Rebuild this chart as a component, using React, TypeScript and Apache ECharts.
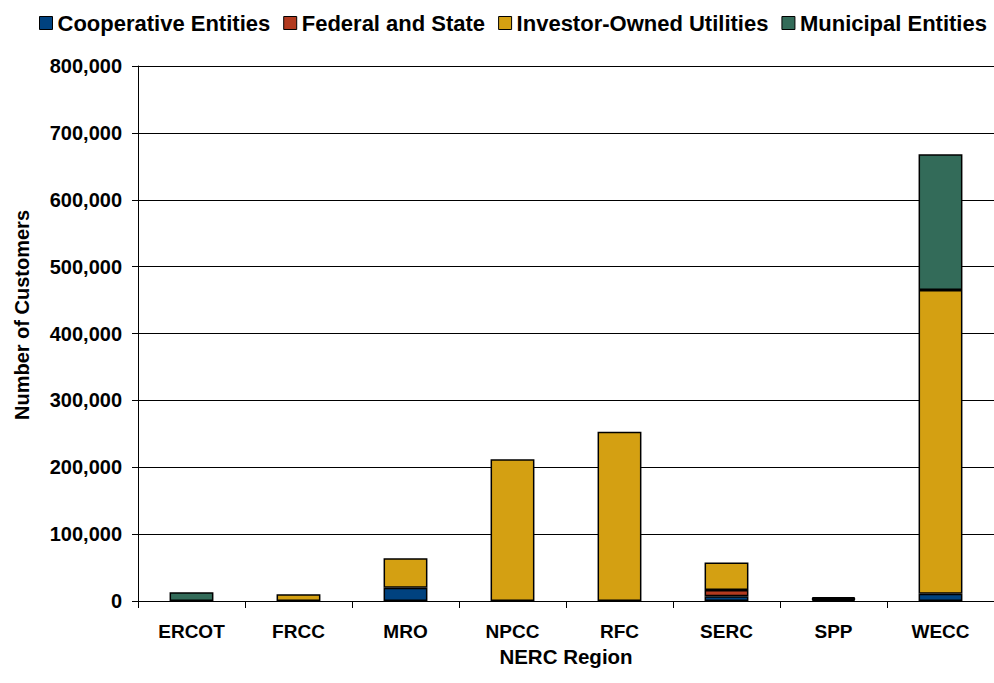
import React, { useEffect, useRef } from "react";
import * as echarts from "echarts";

const categories = ["ERCOT", "FRCC", "MRO", "NPCC", "RFC", "SERC", "SPP", "WECC"];
const cooperative = [0, 0, 20000, 0, 0, 7000, 2000, 11000];
const federal = [0, 0, 0, 0, 0, 9500, 1000, 0];
const investorOwned = [0, 10000, 44000, 212000, 253000, 41000, 1000, 454000];
const municipal = [13000, 0, 0, 0, 0, 0, 2000, 203000];
const yTicks = [0, 100000, 200000, 300000, 400000, 500000, 600000, 700000, 800000];
const xAxisTitle = "NERC Region";
const yAxisTitle = "Number of Customers";

const seriesDefs = [
  { name: "Cooperative Entities", data: cooperative, color: "#00427F" },
  { name: "Federal and State", data: federal, color: "#B23A1F" },
  { name: "Investor-Owned Utilities", data: investorOwned, color: "#D4A012" },
  { name: "Municipal Entities", data: municipal, color: "#336B59" },
];

const FONT = "'Liberation Sans', Arial, sans-serif";

export default function App() {
  const ref = useRef<HTMLDivElement>(null);
  useEffect(() => {
    if (!ref.current) return;
    const chart = echarts.init(ref.current, undefined, { renderer: "svg" });
    chart.setOption({
      animation: false,
      backgroundColor: "#ffffff",
      textStyle: { fontFamily: FONT },
      legend: {
        top: 7,
        left: 34,
        itemWidth: 13,
        itemHeight: 13,
        itemGap: 13,
        icon: "rect",
        textStyle: { fontSize: 22, fontWeight: "bold", color: "#000", fontFamily: FONT },
        data: seriesDefs.map((s) => ({
          name: s.name,
          itemStyle: { color: s.color, borderColor: "#000", borderWidth: 1 },
        })),
      },
      grid: { left: 138, right: 0, top: 66, bottom: 82, containLabel: false },
      xAxis: {
        type: "category",
        data: categories,
        name: xAxisTitle,
        nameLocation: "middle",
        nameGap: 45,
        nameTextStyle: { fontSize: 20.5, fontWeight: "bold", color: "#000", fontFamily: FONT },
        axisLine: { lineStyle: { color: "#000", width: 1 } },
        axisTick: { show: true, length: 7, alignWithLabel: false, lineStyle: { color: "#000" } },
        axisLabel: { fontSize: 19, fontWeight: "bold", color: "#000", margin: 21, fontFamily: FONT },
      },
      yAxis: {
        type: "value",
        min: 0,
        max: 800000,
        interval: 100000,
        axisLine: { show: true, lineStyle: { color: "#000", width: 1 } },
        axisTick: { show: true, length: 6, lineStyle: { color: "#000" } },
        splitLine: { show: true, lineStyle: { color: "#000", width: 1 } },
        axisLabel: {
          fontSize: 20,
          fontWeight: "bold",
          color: "#000",
          margin: 16,
          fontFamily: FONT,
          formatter: (v: number) => (yTicks.includes(v) ? v.toLocaleString("en-US") : ""),
        },
      },
      graphic: [
        {
          type: "text",
          x: 22,
          y: 315,
          rotation: Math.PI / 2,
          style: {
            text: yAxisTitle,
            fontSize: 20,
            fontWeight: "bold",
            fontFamily: FONT,
            fill: "#000",
            align: "center",
            verticalAlign: "middle",
          },
        },
      ],
      series: seriesDefs.map((s) => ({
        name: s.name,
        type: "bar",
        stack: "total",
        barWidth: "41%",
        data: s.data.map((v) => (v === 0 ? null : v)),
        itemStyle: { color: s.color, borderColor: "#000", borderWidth: 1.5 },
      })),
    });
    return () => chart.dispose();
  }, []);
  return (
    <div
      ref={ref}
      style={{ position: "fixed", left: 0, top: 0, width: 994, height: 683 }}
    />
  );
}
